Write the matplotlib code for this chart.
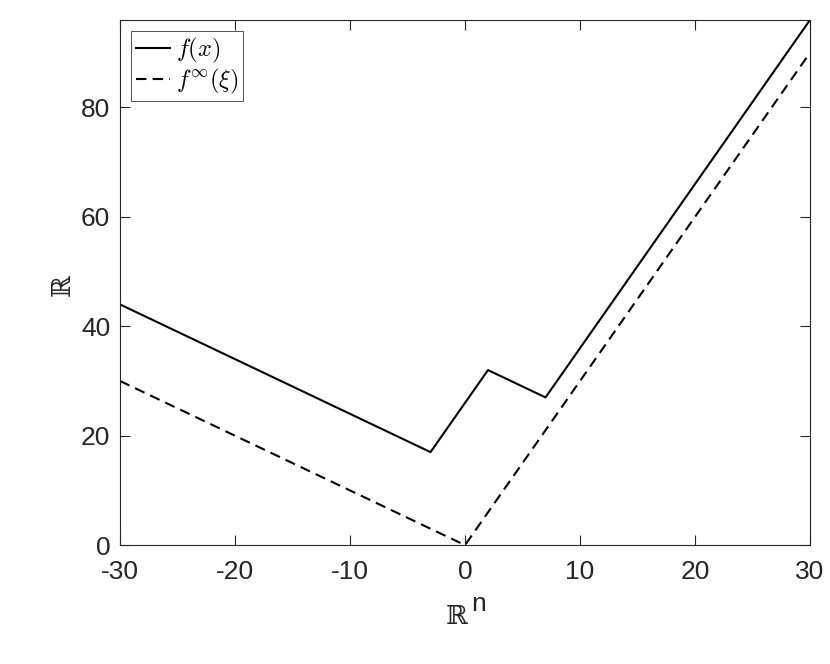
import matplotlib
matplotlib.use('Agg')
from matplotlib import pyplot as plt

# dados
x_f = [-30, -3, 2, 7, 30]
y_f = [44, 17, 32, 27, 96]
x_inf = [-30, 0, 30]
y_inf = [30, 0, 90]

xticks = [-30, -20, -10, 0, 10, 20, 30]
yticks = [0, 20, 40, 60, 80]

plt.rcParams['mathtext.fontset'] = 'cm'
plt.rcParams['axes.unicode_minus'] = False
plt.rcParams['font.family'] = ['Liberation Sans', 'DejaVu Sans']

fig = plt.figure(figsize=(8.3, 6.64), dpi=100)
ax = fig.add_axes([0.1446, 0.179, 0.8313, 0.791])

ax.plot(x_f, y_f, color='black', lw=1.5, label=r'$f(x)$')
ax.plot(x_inf, y_inf, color='black', lw=1.5, ls=(0, (5, 3)), label=r'$f^{\infty}(\xi)$')

ax.set_xlim(-30, 30)
ax.set_ylim(0, 96)
ax.set_xticks(xticks)
ax.set_yticks(yticks)

cinza = '#262626'
for lado in ax.spines.values():
    lado.set_color(cinza)
    lado.set_linewidth(0.8)
ax.tick_params(direction='in', top=True, right=True, length=7, width=0.8,
               color=cinza, labelcolor=cinza, labelsize=19)
ax.tick_params(axis='x', pad=11)
ax.tick_params(axis='y', pad=7)

# rotulos dos eixos (R e R^n)
ax.text(0.488, -0.135, '\u211d', transform=ax.transAxes, ha='center', va='center',
        fontsize=19, color=cinza, family='DejaVu Serif')
ax.text(0.519, -0.112, 'n', transform=ax.transAxes, ha='center', va='center',
        fontsize=19, color=cinza)
ax.text(-0.083, 0.495, '\u211d', transform=ax.transAxes, ha='center', va='center',
        fontsize=19, color=cinza, rotation=90, family='DejaVu Serif')

leg = ax.legend(loc='upper left', fontsize=17.5, frameon=True, fancybox=False,
                edgecolor=cinza, borderaxespad=0.45, handlelength=1.4,
                handletextpad=0.25, borderpad=0.2, labelspacing=0.1)
leg.get_frame().set_linewidth(0.7)

fig.savefig('out.png', dpi=100)
